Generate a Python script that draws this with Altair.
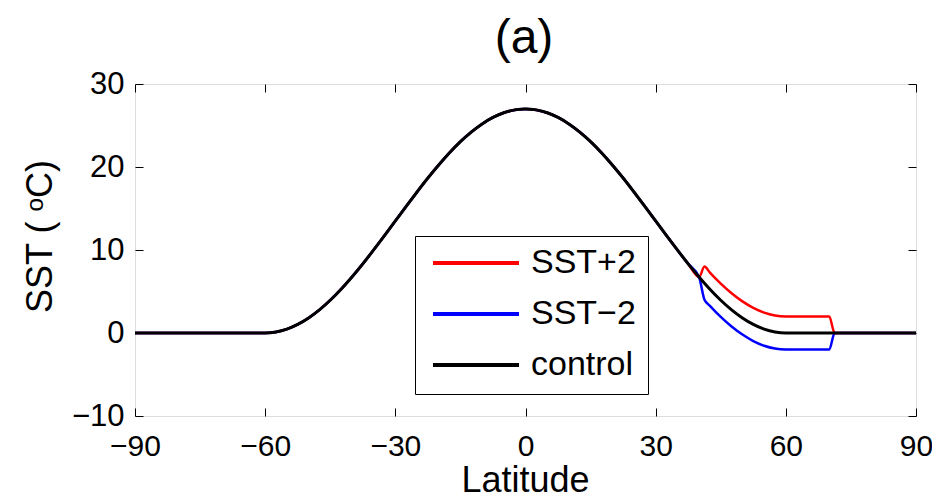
import altair as alt
import pandas as pd

# Latitude grid (degrees)
lat = [-90, -60, -57.5, -55, -52.5, -50, -47.5, -45, -42.5, -40, -37.5, -35, -32.5,
       -30, -27.5, -25, -22.5, -20, -17.5, -15, -12.5, -10, -7.5, -5, -2.5, 0,
       2.5, 5, 7.5, 10, 12.5, 15, 17.5, 20, 22.5, 25, 27.5, 30, 32.5, 35, 37.5,
       40, 41.25, 42.5, 45, 47.5, 50, 52.5, 55, 57.5, 60, 70, 71.25, 90]

# control SST (°C)
sst_control = [0, 0, 0.12, 0.46, 1.03, 1.81, 2.79, 3.95, 5.28, 6.75, 8.33, 10.01, 11.74,
               13.5, 15.26, 16.99, 18.67, 20.25, 21.72, 23.05, 24.21, 25.19, 25.97, 26.54, 26.88, 27,
               26.88, 26.54, 25.97, 25.19, 24.21, 23.05, 21.72, 20.25, 18.67, 16.99, 15.26, 13.5, 11.74, 10.01, 8.33,
               6.75, 6.0, 5.28, 3.95, 2.79, 1.81, 1.03, 0.46, 0.12, 0, 0, 0, 0]

# SST+2 experiment
sst_plus2 = [0, 0, 0.12, 0.46, 1.03, 1.81, 2.79, 3.95, 5.28, 6.75, 8.33, 10.01, 11.74,
             13.5, 15.26, 16.99, 18.67, 20.25, 21.72, 23.05, 24.21, 25.19, 25.97, 26.54, 26.88, 27,
             26.88, 26.54, 25.97, 25.19, 24.21, 23.05, 21.72, 20.25, 18.67, 16.99, 15.26, 13.5, 11.74, 10.01, 8.33,
             6.75, 8.0, 7.28, 5.95, 4.79, 3.81, 3.03, 2.46, 2.12, 2.0, 2.0, 0, 0]

# SST-2 experiment
sst_minus2 = [0, 0, 0.12, 0.46, 1.03, 1.81, 2.79, 3.95, 5.28, 6.75, 8.33, 10.01, 11.74,
              13.5, 15.26, 16.99, 18.67, 20.25, 21.72, 23.05, 24.21, 25.19, 25.97, 26.54, 26.88, 27,
              26.88, 26.54, 25.97, 25.19, 24.21, 23.05, 21.72, 20.25, 18.67, 16.99, 15.26, 13.5, 11.74, 10.01, 8.33,
              6.75, 4.0, 3.28, 1.95, 0.79, -0.19, -0.97, -1.54, -1.88, -2.0, -2.0, 0, 0]

series_names = ["SST+2", "SST\u22122", "control"]
series_colors = ["#ff0000", "#0000ff", "#000000"]
x_ticks = [-90, -60, -30, 0, 30, 60, 90]
y_ticks = [-10, 0, 10, 20, 30]
title_text = ["(a)"]

rows = []
for name, vals in zip(series_names, [sst_plus2, sst_minus2, sst_control]):
    for la, v in zip(lat, vals):
        rows.append({"lat": la, "sst": v, "series": name})
df = pd.DataFrame(rows)
df_title = pd.DataFrame({"t": title_text})

W, H = 781, 332
FONT = "Liberation Sans"

xscale = alt.Scale(domain=[-90, 90], nice=False, zero=False)
yscale = alt.Scale(domain=[-10, 30], nice=False, zero=False)

legend = alt.Legend(
    orient="none", legendX=280, legendY=152, title=None,
    symbolType="stroke", symbolSize=7396, symbolStrokeWidth=4,
    labelFontSize=34, labelFont=FONT, labelColor="black",
    strokeColor="black", fillColor="white", padding=12, symbolOffset=4,
    rowPadding=17, clipHeight=30, labelOffset=10,
)
color = alt.Color("series:N", scale=alt.Scale(domain=series_names, range=series_colors),
                  legend=legend)

def tick_axis(orient, offset):
    return alt.Axis(orient=orient, offset=offset,
                    values=x_ticks if orient in ("top", "bottom") else y_ticks,
                    labels=False, ticks=True, tickSize=8, tickColor="black", tickWidth=1,
                    domain=False, grid=False, title=None)

base = alt.Chart(df)

red = base.transform_filter(alt.datum.series == series_names[0]).mark_line(
    strokeWidth=2.5, interpolate="monotone").encode(
    x=alt.X("lat:Q", scale=xscale, axis=alt.Axis(
        orient="bottom", values=x_ticks, ticks=False, domain=False, grid=False,
        labelFont=FONT, labelFontSize=30, labelColor="black", labelPadding=15, labelFlush=False,
        title="Latitude", titleFont=FONT, titleFontSize=36, titleFontWeight="normal",
        titleColor="black", titleBaseline="alphabetic", titleX=390, titleY=75)),
    y=alt.Y("sst:Q", scale=yscale, axis=alt.Axis(
        orient="left", values=y_ticks, ticks=False, domain=False, grid=False,
        labelFont=FONT, labelFontSize=31, labelColor="black", labelPadding=11, labelFlush=False,
        title="SST ( \u1d52C)", titleFont=FONT, titleFontSize=36, titleFontWeight="normal",
        titleColor="black", titleBaseline="alphabetic", titleAngle=270, titleX=-84, titleY=152)),
    color=color,
)

blue = base.transform_filter(alt.datum.series == series_names[1]).mark_line(
    strokeWidth=2.5, interpolate="monotone").encode(
    x=alt.X("lat:Q", scale=xscale, axis=tick_axis("top", -H)),
    y=alt.Y("sst:Q", scale=yscale, axis=tick_axis("right", -W)),
    color=color,
)

black = base.transform_filter(alt.datum.series == series_names[2]).mark_line(
    strokeWidth=3, interpolate="monotone").encode(
    x=alt.X("lat:Q", scale=xscale, axis=tick_axis("bottom", -H)),
    y=alt.Y("sst:Q", scale=yscale, axis=tick_axis("left", -W)),
    color=color,
)

title = alt.Chart(df_title).mark_text(
    font=FONT, fontSize=48, color="black", align="center", baseline="alphabetic"
).encode(text="t:N", x=alt.value(389), y=alt.value(-31))

chart = alt.layer(red, blue, black, title).resolve_axis(x="independent", y="independent").properties(
    width=W, height=H,
    autosize=alt.AutoSizeParams(type="none"),
    padding={"left": 127, "top": 76, "right": 16, "bottom": 78},
).configure_view(stroke="black", strokeWidth=1.5).configure(background="white")

chart.save("out.html", embed_options={"renderer": "svg", "actions": False})
